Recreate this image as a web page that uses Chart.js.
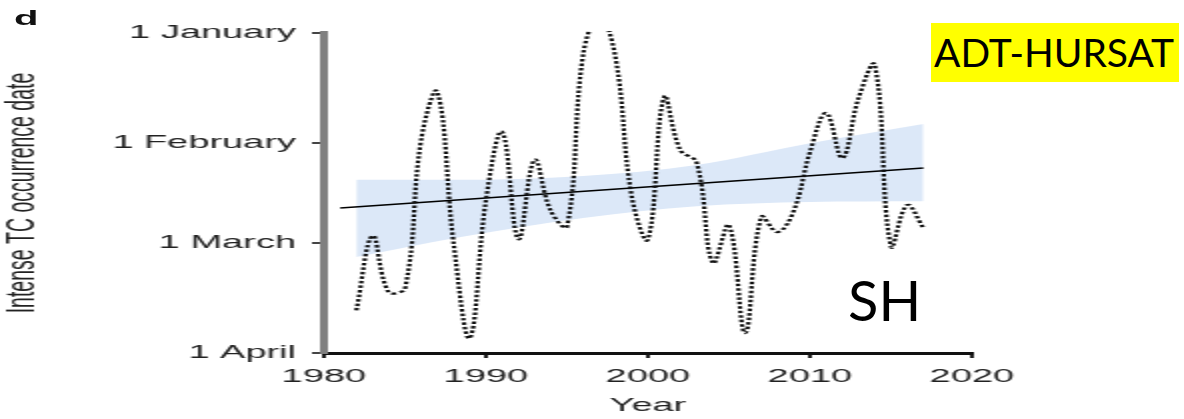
<!DOCTYPE html>
<html>
<head>
<meta charset="utf-8">
<script src="https://cdn.jsdelivr.net/npm/chart.js@4/dist/chart.umd.min.js"></script>
<style>
    body { margin: 0; background: #fff; }
    #wrap { position: relative; width: 1184px; height: 419px; overflow: hidden; }
    .panel { position: absolute; left: 14px; top: 8px; font: bold 20px "Liberation Sans", Arial, sans-serif;
        line-height: 1; transform: scaleX(2); transform-origin: left top; color: #111; }
    .hemi { position: absolute; left: 848px; top: 272px; font: 56px Lato, sans-serif; line-height: 1; color: #000; }
    .tag { position: absolute; left: 931px; top: 23px; width: 248px; height: 59px; background: #ffff00;
        font: 39px Lato, sans-serif; line-height: 59px; padding-left: 3px; box-sizing: border-box;
        white-space: nowrap; color: #000; }
</style>
</head>
<body>
<div id="wrap">
    <!-- the source figure is stretched 2x horizontally, so the canvas is too -->
    <canvas id="tcChart" width="592" height="419" style="width:1184px;height:419px"></canvas>
    <div class="panel">d</div>
    <div class="hemi">SH</div>
    <div class="tag">ADT-HURSAT</div>
</div>
<script>
"use strict";

// intense TC occurrence date, as day of year (1 = 1 January)
const years = [1982, 1983, 1984, 1985, 1986, 1987, 1988, 1989, 1990, 1991, 1992, 1993,
    1994, 1995, 1996, 1997, 1998, 1999, 2000, 2001, 2002, 2003, 2004, 2005,
    2006, 2007, 2008, 2009, 2010, 2011, 2012, 2013, 2014, 2015, 2016, 2017];
const occurrenceDay = [79, 58, 74, 73, 31, 17.6, 60, 86.8, 48, 28.8, 59, 36.7,
    51, 55.5, 7, -4, 8, 47, 59, 19, 34, 37.3, 65.7, 55,
    85.4, 52.7, 57, 51, 34.5, 23.5, 36.2, 19.3, 10, 61, 49.4, 55.8];

// linear trend and its confidence band
const trendYears = [1981, 2017];
const trendDays = [50.2, 39.0];
const bandYears = [1982, 1988, 1996, 2003, 2010, 2017];
const bandUpper = [42.3, 42.3, 41.2, 38.1, 32, 26.6];
const bandLower = [64, 58.7, 53, 49.7, 48.5, 48.3];

// y axis ticks
const tickDays = [1, 32, 60, 91];
const tickNames = ['1 January', '1 February', '1 March', '1 April'];

const toPoints = (xs, ys) => xs.map((x, i) => ({ x: x, y: ys[i] }));

const tickFont = { family: '"Liberation Sans", Arial, sans-serif', size: 19 };

const ctx = document.getElementById('tcChart').getContext('2d');
const tcChart = new Chart(ctx, {
    type: 'line',
    data: {
        datasets: [
            {
                label: 'Occurrence date',
                data: toPoints(years, occurrenceDay),
                borderColor: '#111',
                borderWidth: 2.2,
                borderDash: [2.5, 2],
                pointRadius: 0,
                tension: 0.4,
                fill: false,
                clip: 2,
                order: 0
            },
            {
                label: 'Trend',
                data: toPoints(trendYears, trendDays),
                borderColor: '#000',
                borderWidth: 1.5,
                pointRadius: 0,
                fill: false,
                order: 1
            },
            {
                label: 'CI upper',
                data: toPoints(bandYears, bandUpper),
                borderWidth: 0,
                borderColor: 'rgba(0,0,0,0)',
                pointRadius: 0,
                cubicInterpolationMode: 'monotone',
                fill: false,
                order: 2
            },
            {
                label: 'CI lower',
                data: toPoints(bandYears, bandLower),
                borderWidth: 0,
                borderColor: 'rgba(0,0,0,0)',
                backgroundColor: '#dce8f8',
                pointRadius: 0,
                cubicInterpolationMode: 'monotone',
                fill: '-1',
                order: 2
            }
        ]
    },
    options: {
        responsive: false,
        devicePixelRatio: 1,
        animation: false,
        layout: {
            padding: { top: 33, right: 106, bottom: 0, left: 0 }
        },
        plugins: {
            legend: { display: false },
            tooltip: { enabled: false }
        },
        scales: {
            x: {
                type: 'linear',
                min: 1980,
                max: 2020,
                afterFit: (scale) => { scale.height = 66; },
                ticks: {
                    stepSize: 10,
                    padding: 7,
                    color: '#222',
                    font: tickFont,
                    maxRotation: 0,
                    callback: (value) => String(value)
                },
                grid: {
                    drawOnChartArea: false,
                    tickLength: 5,
                    lineWidth: 2,
                    color: '#222'
                },
                border: { color: '#111', width: 3 },
                title: {
                    display: true,
                    text: 'Year',
                    color: '#222',
                    font: tickFont,
                    padding: { top: 0, bottom: 2 }
                }
            },
            y: {
                type: 'linear',
                reverse: true,
                min: 1,
                max: 91,
                afterFit: (scale) => { scale.width = 162; },
                afterBuildTicks: (scale) => {
                    scale.ticks = tickDays.map(v => ({ value: v }));
                },
                ticks: {
                    padding: 8,
                    color: '#222',
                    font: tickFont,
                    callback: (value) => tickNames[tickDays.indexOf(value)]
                },
                grid: {
                    drawOnChartArea: false,
                    tickLength: 6,
                    lineWidth: 2,
                    color: '#444'
                },
                border: { color: '#808080', width: 4 },
                title: {
                    display: true,
                    text: 'Intense TC occurrence date',
                    color: '#222',
                    font: { family: '"Liberation Sans", Arial, sans-serif', size: 19.5 },
                    padding: { top: 0, bottom: 0 }
                }
            }
        }
    }
});
</script>
</body>
</html>
